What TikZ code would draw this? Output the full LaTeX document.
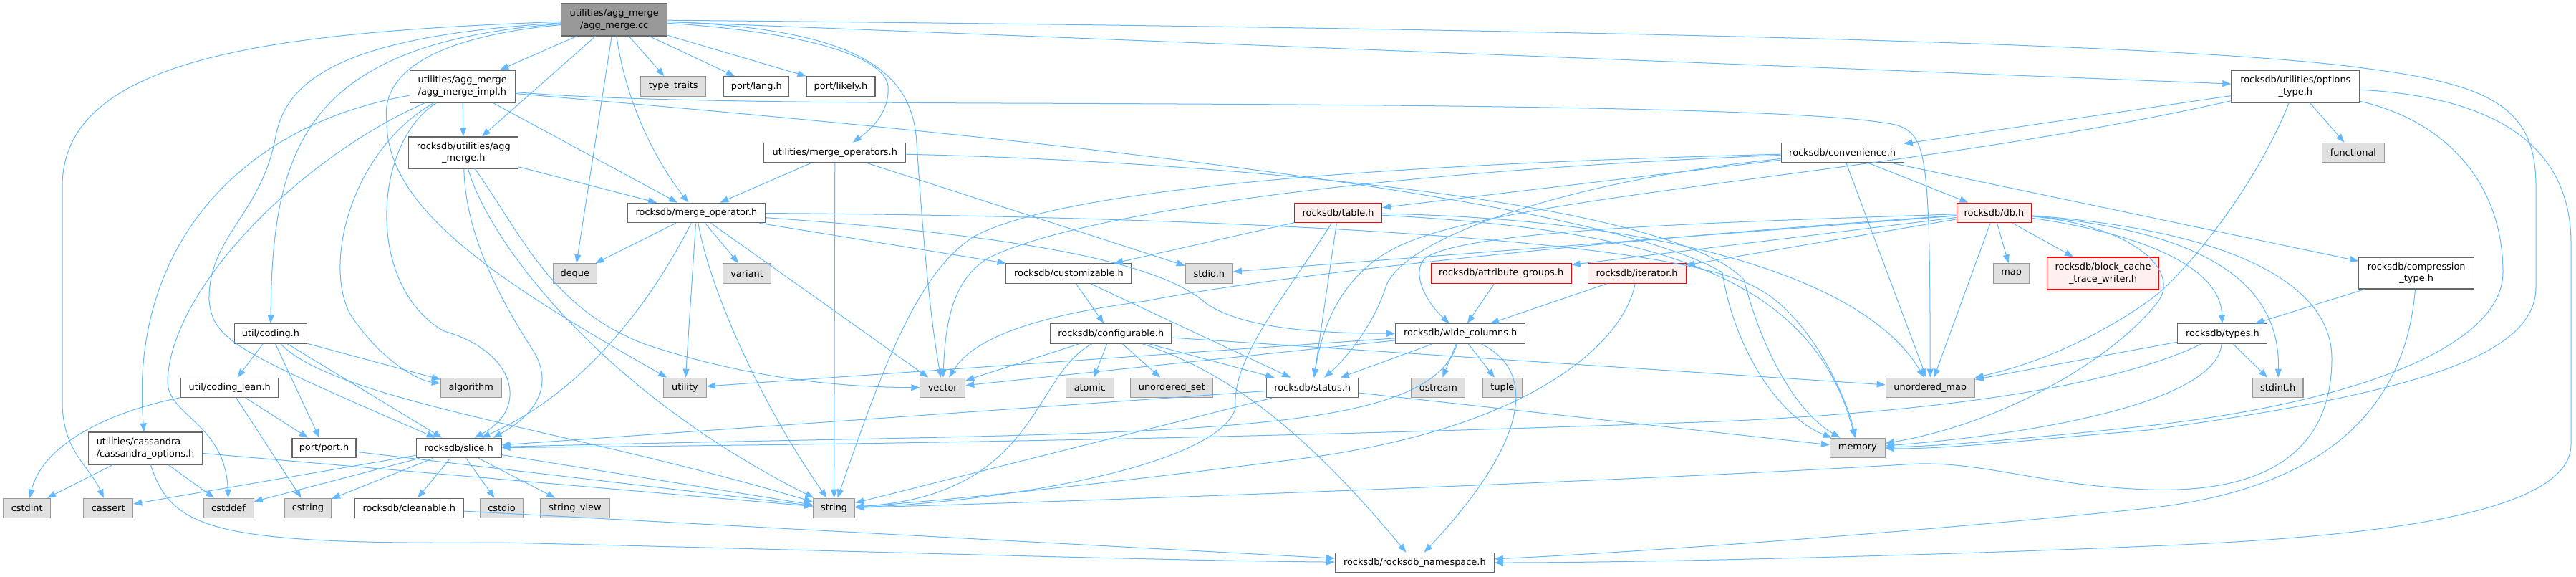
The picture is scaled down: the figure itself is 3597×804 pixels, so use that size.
\documentclass[tikz,border=0pt]{standalone}
\usepackage{fontspec}
\usepackage{tikz}
\usetikzlibrary{arrows.meta}
\newfontfamily\graphfont{DejaVu Sans}
\definecolor{edgeblue}{HTML}{63B8FF}
\definecolor{boxgray}{HTML}{666666}
\definecolor{sysgray}{HTML}{999999}
\definecolor{sysfill}{HTML}{E0E0E0}
\definecolor{rootfill}{HTML}{999999}
\definecolor{truncred}{HTML}{FF0000}
\definecolor{truncfill}{HTML}{FFF0F0}

\begin{document}
\begin{tikzpicture}[
        x=1pt, y=-1pt,
        hdr/.style={draw=boxgray, line width=1.1pt, fill=white, text=black,
                    font=\graphfont\fontsize{12.9pt}{16.7pt}\selectfont,
                    inner xsep=3pt, inner ysep=2pt, minimum height=27.5pt, align=center},
        sys/.style={hdr, draw=sysgray, fill=sysfill},
        trunc/.style={hdr, draw=truncred, fill=truncfill},
        rootbox/.style={hdr, fill=rootfill},
        inc/.style={draw=edgeblue, line width=1pt, -{Triangle[length=12pt,width=9pt]}},
    ]
    \useasboundingbox (0,0) rectangle (3597,804);

    % row 1-3
    \node[rootbox, minimum width=148, minimum height=45] (root) at (857.7,27.5) {utilities/agg\_merge\\/agg\_merge.cc};
    \node[hdr, minimum width=147, minimum height=45, align=left] (impl) at (645.7,120.5) {utilities/agg\_merge\\/agg\_merge\_impl.h};
    \node[sys, minimum width=91] (typetraits) at (940.2,120.5) {type\_traits};
    \node[hdr, minimum width=91] (lang) at (1056.3,120.5) {port/lang.h};
    \node[hdr, minimum width=96] (likely) at (1174,120.5) {port/likely.h};
    \node[hdr, minimum width=179, minimum height=45] (opttype) at (3205.3,120.5) {rocksdb/utilities/options\\\_type.h};
    \node[hdr, minimum width=153, minimum height=44] (aggh) at (647.3,213) {rocksdb/utilities/agg\\\_merge.h};
    \node[hdr, minimum width=198] (mergeops) at (1165.8,213) {utilities/merge\_operators.h};
    \node[hdr, minimum width=171] (conv) at (2572.6,213) {rocksdb/convenience.h};
    \node[sys, minimum width=86.5] (functional) at (3285.9,213) {functional};

    % row 4-5
    \node[hdr, minimum width=192] (mergeop) at (972.5,297) {rocksdb/merge\_operator.h};
    \node[trunc, minimum width=122] (table) at (1868.5,297) {rocksdb/table.h};
    \node[trunc, minimum width=104.5] (db) at (2784.4,297) {rocksdb/db.h};
    \node[sys, minimum width=61] (deque) at (802.8,381.5) {deque};
    \node[sys, minimum width=67] (variant) at (1043.1,381.5) {variant};
    \node[hdr, minimum width=175] (custom) at (1492.4,381.5) {rocksdb/customizable.h};
    \node[sys, minimum width=66] (stdioh) at (1688.3,381.5) {stdio.h};
    \node[trunc, minimum width=196] (attr) at (2096.1,381.5) {rocksdb/attribute\_groups.h};
    \node[trunc, minimum width=137] (iter) at (2285.6,381.5) {rocksdb/iterator.h};
    \node[sys, minimum width=50.5] (map) at (2808.7,381.5) {map};
    \node[trunc, minimum width=156, minimum height=45] (bctw) at (2936.5,381.5) {rocksdb/block\_cache\\\_trace\_writer.h};
    \node[hdr, minimum width=161, minimum height=44] (comp) at (3374.2,381) {rocksdb/compression\\\_type.h};

    % row 6-7
    \node[hdr, minimum width=101] (coding) at (377.9,465.5) {util/coding.h};
    \node[hdr, minimum width=169] (config) at (1551.3,465.5) {rocksdb/configurable.h};
    \node[hdr, minimum width=181] (wide) at (2039.2,465.5) {rocksdb/wide\_columns.h};
    \node[hdr, minimum width=125] (types) at (3103.4,465.5) {rocksdb/types.h};
    \node[hdr, minimum width=136] (codinglean) at (320.7,541) {util/coding\_lean.h};
    \node[sys, minimum width=85] (algorithm) at (657.8,541) {algorithm};
    \node[sys, minimum width=60] (utility) at (956.4,541) {utility};
    \node[sys, minimum width=63] (vector) at (1316.3,541) {vector};
    \node[sys, minimum width=66.5] (atomic) at (1521.8,541) {atomic};
    \node[sys, minimum width=115] (uset) at (1636.2,541) {unordered\_set};
    \node[hdr, minimum width=128] (status) at (1832.7,541) {rocksdb/status.h};
    \node[sys, minimum width=75] (ostream) at (2008.4,541) {ostream};
    \node[sys, minimum width=55] (tuple) at (2097.9,541) {tuple};
    \node[sys, minimum width=124] (umap) at (2695.2,541) {unordered\_map};
    \node[sys, minimum width=70.5] (stdinth) at (3180.7,541) {stdint.h};

    % row 8-10
    \node[hdr, minimum width=159, minimum height=45, align=left] (cass) at (203,625.5) {utilities/cassandra\\/cassandra\_options.h};
    \node[hdr, minimum width=89] (port) at (452.5,625) {port/port.h};
    \node[hdr, minimum width=119] (slice) at (640.6,625) {rocksdb/slice.h};
    \node[sys, minimum width=77] (memory) at (2593.9,625) {memory};
    \node[sys, minimum width=66] (cstdint) at (37.7,709) {cstdint};
    \node[sys, minimum width=69] (cassert) at (151.2,709) {cassert};
    \node[sys, minimum width=70] (cstddef) at (319.1,709) {cstddef};
    \node[sys, minimum width=65] (cstring) at (429.9,709) {cstring};
    \node[hdr, minimum width=152] (cleanable) at (571.3,709) {rocksdb/cleanable.h};
    \node[sys, minimum width=60.5] (cstdio) at (700.6,709) {cstdio};
    \node[sys, minimum width=97] (strview) at (803,709) {string\_view};
    \node[sys, minimum width=58.5] (string) at (1164.6,709) {string};
    \node[hdr, minimum width=222] (ns) at (1975.3,785) {rocksdb/rocksdb\_namespace.h};

    % agg_merge.cc
    \draw[inc] (root) -- (impl);
    \draw[inc] (root) -- (aggh);
    \draw[inc] (root) -- (typetraits);
    \draw[inc] (root) -- (lang);
    \draw[inc] (root) -- (likely);
    \draw[inc] (root) -- (deque);
    \draw[inc] (root) -- (opttype);
    \draw[inc] (root) .. controls (875,150) and (920,230) .. (mergeop);
    \draw[inc] (root) .. controls (1200,40) and (1275,100) .. (1280,200) .. controls (1290,350) and (1300,450) .. (vector);
    \draw[inc] (root) .. controls (1130,45) and (1235,80) .. (1240,120) .. controls (1243,160) and (1210,185) .. ([xshift=25pt]mergeops.north);
    \draw[inc] (root) .. controls (2200,40) and (3050,60) .. (3300,95) .. controls (3480,118) and (3541,150) .. (3541,260) -- (3541,400) .. controls (3541,490) and (3400,545) .. (3000,600) .. controls (2850,612) and (2720,627) .. (memory);
    \draw[inc] (root) .. controls (380,45) and (87,80) .. (87,260) -- (87,560) .. controls (87,630) and (125,650) .. (cassert);
    \draw[inc] (root) .. controls (480,50) and (400,110) .. (385,190) .. controls (365,300) and (290,330) .. (292,420) .. controls (298,475) and (330,490) .. (slice);
    \draw[inc] (root) .. controls (430,60) and (380,200) .. (coding);
    \draw[inc] (root) .. controls (620,50) and (530,95) .. (540,170) .. controls (540,290) and (690,390) .. (utility);

    % agg_merge_impl.h
    \draw[inc] (impl) -- (aggh);
    \draw[inc] (impl) -- (mergeop);
    \draw[inc] (impl) .. controls (330,175) and (180,350) .. (cass);
    \draw[inc] (impl) .. controls (420,220) and (240,400) .. (234,530) .. controls (232,580) and (315,590) .. (cstddef);
    \draw[inc] (impl) .. controls (490,210) and (450,370) .. (490,440) .. controls (530,500) and (580,530) .. (algorithm);
    \draw[inc] (impl) .. controls (520,200) and (510,400) .. (620,462) .. controls (720,490) and (740,570) .. ([xshift=22pt]slice.north);
    \draw[inc] ([yshift=-8pt]impl.east) .. controls (850,140) and (1100,143) .. (1400,144) .. controls (2000,146) and (2550,150) .. (2650,175) .. controls (2690,190) and (2695,215) .. (umap);
    \draw[inc] ([yshift=-10pt]impl.east) .. controls (1200,172) and (2200,260) .. (2405,380) .. controls (2420,480) and (2480,580) .. (memory);

    % agg_merge.h, merge_operators.h
    \draw[inc] (aggh) -- (mergeop);
    \draw[inc] (aggh) .. controls (650,330) and (700,420) .. (745,490) .. controls (775,540) and (745,580) .. ([xshift=48pt]slice.north);
    \draw[inc] (aggh) .. controls (680,330) and (830,540) .. (string);
    \draw[inc] (aggh) .. controls (730,330) and (770,430) .. (900,480) .. controls (1050,530) and (1180,540) .. (vector);
    \draw[inc] (mergeops) -- (mergeop);
    \draw[inc] (mergeops) -- (string);
    \draw[inc] (mergeops) -- (stdioh);
    \draw[inc] (mergeops) .. controls (1700,225) and (2330,280) .. (2435,390) .. controls (2455,470) and (2500,570) .. (memory);

    % options_type.h
    \draw[inc] (opttype) -- (functional);
    \draw[inc] (opttype) -- (conv);
    \draw[inc] (opttype) .. controls (2650,245) and (2100,270) .. (1950,345) .. controls (1890,375) and (1850,430) .. (status);
    \draw[inc] (opttype) .. controls (3150,260) and (3050,385) .. (3000,420) .. controls (2900,490) and (2810,515) .. (umap);
    \draw[inc] (opttype) .. controls (3420,170) and (3495,260) .. (3495,380) .. controls (3495,480) and (3300,560) .. (3000,594) .. controls (2850,610) and (2720,622) .. (memory);
    \draw[inc] (opttype) .. controls (3480,135) and (3590,200) .. (3590,340) -- (3590,620) .. controls (3590,720) and (3300,750) .. (3000,762) .. controls (2700,775) and (2300,785) .. (ns);

    % convenience.h
    \draw[inc] (conv) -- (table);
    \draw[inc] (conv) -- (db);
    \draw[inc] (conv) -- (umap);
    \draw[inc] (conv) -- (comp);
    \draw[inc] (conv) .. controls (2200,250) and (1960,330) .. (1935,400) .. controls (1920,450) and (1880,500) .. (status);
    \draw[inc] (conv) .. controls (1900,230) and (1480,265) .. (1360,330) .. controls (1280,380) and (1230,520) .. (string);
    \draw[inc] (conv) .. controls (1900,240) and (1500,300) .. (1380,360) .. controls (1330,390) and (1320,450) .. (vector);

    % merge_operator.h
    \draw[inc] (mergeop) -- (deque);
    \draw[inc] (mergeop) -- (variant);
    \draw[inc] (mergeop) -- (utility);
    \draw[inc] (mergeop) -- (vector);
    \draw[inc] (mergeop) -- (custom);
    \draw[inc] (mergeop) .. controls (920,400) and (830,540) .. (slice);
    \draw[inc] (mergeop) .. controls (990,400) and (1060,560) .. (string);
    \draw[inc] (mergeop) .. controls (1450,330) and (1620,370) .. (1680,420) .. controls (1730,460) and (1850,465) .. (wide);
    \draw[inc] (mergeop) .. controls (1500,300) and (2300,320) .. (2450,400) .. controls (2530,440) and (2580,560) .. (memory);

    % table.h, db.h
    \draw[inc] (table) -- (custom);
    \draw[inc] (table) -- (status);
    \draw[inc] (table) .. controls (1790,420) and (1720,500) .. (1725,570) .. controls (1700,650) and (1400,700) .. (string);
    \draw[inc] (table) .. controls (2300,320) and (2530,380) .. (memory);
    \draw[inc] (table) .. controls (2300,305) and (2600,380) .. (umap);
    \draw[inc] (db) -- (map);
    \draw[inc] (db) -- (bctw);
    \draw[inc] (db) -- (umap);
    \draw[inc] (db) -- (stdioh);
    \draw[inc] (db) -- (attr);
    \draw[inc] (db) -- (iter);
    \draw[inc] (db) .. controls (2300,330) and (1800,380) .. (1600,420) .. controls (1450,440) and (1360,470) .. (vector);
    \draw[inc] (db) .. controls (2400,310) and (2050,320) .. (1990,360) .. controls (1970,380) and (1990,420) .. (wide);
    \draw[inc] (db) .. controls (2950,320) and (3100,360) .. (types);
    \draw[inc] (db) .. controls (3050,320) and (3185,380) .. (stdinth);
    \draw[inc] (db) .. controls (2980,315) and (3050,380) .. (3010,425) .. controls (2950,500) and (2800,590) .. (memory);
    \draw[inc] (db) .. controls (3100,320) and (3256,390) .. (3256,500) .. controls (3256,640) and (3150,688) .. (3000,683) .. controls (2850,678) and (2760,640) .. (2660,648) .. controls (2300,670) and (1500,700) .. (string);
    \draw[inc] (attr) -- (wide);
    \draw[inc] (iter) -- (wide);
    \draw[inc] (iter) .. controls (2270,470) and (2150,600) .. (1800,642) .. controls (1500,680) and (1300,700) .. (string);
    \draw[inc] (comp) -- (types);
    \draw[inc] (comp) .. controls (3360,560) and (3260,680) .. (3000,709) .. controls (2700,740) and (2300,770) .. (ns);

    % coding, configurable, wide_columns
    \draw[inc] (coding) -- (codinglean);
    \draw[inc] (coding) -- (port);
    \draw[inc] (coding) -- (slice);
    \draw[inc] (coding) -- (algorithm);
    \draw[inc] (coding) .. controls (470,560) and (800,600) .. (string);
    \draw[inc] (custom) -- (config);
    \draw[inc] (custom) -- (status);
    \draw[inc] (config) -- (vector);
    \draw[inc] (config) -- (atomic);
    \draw[inc] (config) -- (uset);
    \draw[inc] (config) -- (status);
    \draw[inc] (config) -- (umap);
    \draw[inc] (config) .. controls (1440,525) and (1450,690) .. (string);
    \draw[inc] (config) .. controls (1720,520) and (1830,610) .. (ns);
    \draw[inc] (wide) -- (status);
    \draw[inc] (wide) -- (ostream);
    \draw[inc] (wide) -- (tuple);
    \draw[inc] (wide) -- (vector);
    \draw[inc] (wide) -- (utility);
    \draw[inc] (wide) .. controls (1990,620) and (1600,600) .. (slice);
    \draw[inc] (wide) .. controls (2150,520) and (2130,620) .. (ns);
    \draw[inc] (status) -- (slice);
    \draw[inc] (status) -- (string);
    \draw[inc] (status) -- (memory);
    \draw[inc] (types) -- (stdinth);
    \draw[inc] (types) -- (umap);
    \draw[inc] (types) .. controls (3095,560) and (2850,605) .. (memory);
    \draw[inc] (types) .. controls (2950,540) and (2700,575) .. (2400,588) .. controls (1800,610) and (1250,620) .. (slice);

    % lower headers
    \draw[inc] (codinglean) -- (port);
    \draw[inc] (codinglean) -- (cstring);
    \draw[inc] (codinglean) .. controls (150,575) and (60,620) .. (cstdint);
    \draw[inc] (cass) -- (cstdint);
    \draw[inc] (cass) -- (cstddef);
    \draw[inc] (cass) -- (string);
    \draw[inc] (cass) .. controls (240,740) and (300,760) .. (700,757) .. controls (1100,766) and (1600,782) .. (ns);
    \draw[inc] (port) -- (string);
    \draw[inc] (slice) -- (cassert);
    \draw[inc] (slice) -- (cstddef);
    \draw[inc] (slice) -- (cstring);
    \draw[inc] (slice) -- (cleanable);
    \draw[inc] (slice) -- (cstdio);
    \draw[inc] (slice) -- (strview);
    \draw[inc] (slice) -- (string);
    \draw[inc] (cleanable) -- (ns);
\end{tikzpicture}
\end{document}
